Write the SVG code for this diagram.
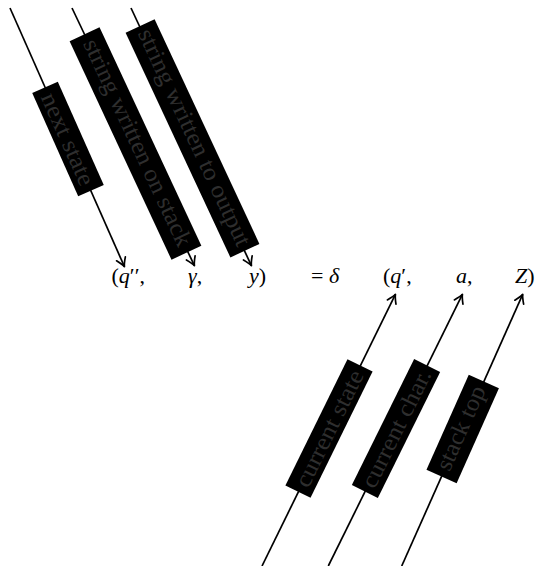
<svg xmlns="http://www.w3.org/2000/svg" width="537" height="566" viewBox="0 0 537 566">
<style>
.conn{fill:none;stroke:#000;stroke-width:1.7;marker-end:url(#arr)}
.box{fill:#000}
.lbl{font-family:'Liberation Serif',serif;font-size:24px;fill:#2e2e2e;text-anchor:middle}
.math{font-family:'Liberation Serif',serif;font-size:22px;fill:#000}
.it{font-style:italic}
</style>
<defs>
<marker id="arr" markerUnits="userSpaceOnUse" orient="auto" refX="0" refY="0" markerWidth="12" markerHeight="12" overflow="visible">
<path d="M-8.5,-4.8 Q-3,-1 0,0 Q-3,1 -8.5,4.8" fill="none" stroke="#000" stroke-width="1.7" stroke-linecap="round" stroke-linejoin="round"/>
</marker>
</defs>
<g id="connectors">
<path class="conn" d="M10,8 L124.4,266.6"/>
<path class="conn" d="M72,8 L194.4,265.6"/>
<path class="conn" d="M131,8 L251.4,265.6"/>
<path class="conn" d="M262,566 L395.4,294.4"/>
<path class="conn" d="M328.3,566 L462.4,294.4"/>
<path class="conn" d="M401.7,566 L522.7,294.4"/>
</g>
<g id="next-state" transform="translate(68,139) rotate(66)">
<rect class="box" x="-56.5" y="-14" width="113" height="28"/>
<text class="lbl" x="0" y="8" textLength="99" lengthAdjust="spacingAndGlyphs">next state</text>
</g>
<g id="string-written-on-stack" transform="translate(135.5,143.5) rotate(65)">
<rect class="box" x="-120.5" y="-16.5" width="241" height="33"/>
<text class="lbl" x="0" y="5.5" textLength="226" lengthAdjust="spacingAndGlyphs">string written on stack</text>
</g>
<g id="string-written-to-output" transform="translate(192.5,138.3) rotate(65)">
<rect class="box" x="-124" y="-16" width="248" height="32"/>
<text class="lbl" x="0" y="5.5" textLength="237" lengthAdjust="spacingAndGlyphs">string written to output</text>
</g>
<g id="current-state" transform="translate(329,428.5) rotate(-63.8)">
<rect class="box" x="-70.3" y="-14" width="140.6" height="28"/>
<text class="lbl" x="0" y="8" textLength="127" lengthAdjust="spacingAndGlyphs">current state</text>
</g>
<g id="current-char" transform="translate(396,428.5) rotate(-63.7)">
<rect class="box" x="-70.3" y="-14.5" width="140.6" height="29"/>
<text class="lbl" x="0" y="8" textLength="129" lengthAdjust="spacingAndGlyphs">current char.</text>
</g>
<g id="stack-top" transform="translate(462.7,429) rotate(-66)">
<rect class="box" x="-52" y="-16.5" width="104" height="33"/>
<text class="lbl" x="0" y="5.5" textLength="90" lengthAdjust="spacingAndGlyphs">stack top</text>
</g>
<g id="formula" class="math">
<g id="q2"><text x="111.5" y="283">(<tspan class="it">q</tspan>′′,</text></g>
<g id="gamma"><text class="it" x="188" y="283">γ<tspan font-style="normal">,</tspan></text></g>
<g id="y"><text x="249" y="283"><tspan class="it">y</tspan>)</text></g>
<g id="eq"><text x="311" y="283">= <tspan class="it">δ</tspan></text></g>
<g id="q1"><text x="383" y="283">(<tspan class="it">q</tspan>′,</text></g>
<g id="a"><text x="456" y="283"><tspan class="it">a</tspan>,</text></g>
<g id="Z"><text x="515" y="283"><tspan class="it">Z</tspan>)</text></g>
</g>
</svg>
